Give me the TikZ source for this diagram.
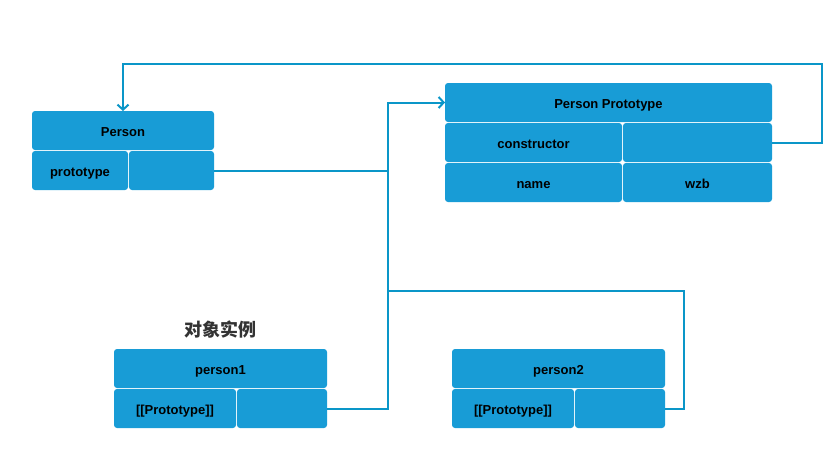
\documentclass[tikz,border=0pt]{standalone}
\usepackage{fontspec}
\setmainfont{Liberation Sans}
\newfontfamily\cjk{Noto Sans CJK SC}
\usetikzlibrary{arrows.meta,calc,positioning}
\definecolor{boxblue}{RGB}{24,156,214}
\definecolor{lineblue}{RGB}{10,150,200}
\definecolor{titlegray}{RGB}{51,51,51}
\newdimen\hdim
\newdimen\gdim
\hdim=39pt
\gdim=1pt
\tikzstyle{cell}=[
  fill=boxblue,
  font={\fontsize{13}{15}\selectfont\bfseries},
  text=black,
  text height=11pt,
  text depth=0pt,
  inner sep=0pt,
  minimum height=\hdim,
  outer sep=0pt,
  rectangle,
  rounded corners=3pt,
  text centered,
]
\tikzstyle{link}=[
  draw=lineblue,
  line width=2pt,
]
\tikzstyle{title}=[
  color=titlegray,
  font={\cjk\bfseries\fontsize{18}{20}\selectfont},
]
\tikzset{
  x=1pt, y=-1pt,
  >={Straight Barb[length=5pt,width=11pt]},
}
\begin{document}
\begin{tikzpicture}
      \useasboundingbox (0,0) rectangle (839,461);
      %% constructor
      \node (person) [cell, minimum width=182pt] at (123,130.5) {Person};
      \node (personkey) [cell, minimum width=96pt, below right=\gdim and 0pt of person.south west] {prototype};
      \node (personval) [cell, minimum width=85pt, right=\gdim of personkey] {};
      %% prototype object
      \node (proto) [cell, minimum width=327pt] at (608.5,102.5) {Person Prototype};
      \node (ctorkey) [cell, minimum width=177pt, below right=\gdim and 0pt of proto.south west] {constructor};
      \node (ctorval) [cell, minimum width=149pt, right=\gdim of ctorkey] {};
      \node (namekey) [cell, minimum width=177pt, below=\gdim of ctorkey] {name};
      \node (nameval) [cell, minimum width=149pt, right=\gdim of namekey] {wzb};
      %% instances
      \node (person1) [cell, minimum width=213pt] at (220.5,368.5) {person1};
      \node (p1key) [cell, minimum width=122pt, below right=\gdim and 0pt of person1.south west] {[[Prototype]]};
      \node (p1val) [cell, minimum width=90pt, right=\gdim of p1key] {};
      \node (person2) [cell, minimum width=213pt] at (558.5,368.5) {person2};
      \node (p2key) [cell, minimum width=122pt, below right=\gdim and 0pt of person2.south west] {[[Prototype]]};
      \node (p2val) [cell, minimum width=90pt, right=\gdim of p2key] {};
      \node (instances) [title, above=7pt of person1] {对象实例};
      %%
      \coordinate (trunk) at (388,102.5);
      \coordinate (bend) at (684,291);
      \coordinate (loop) at (822,64);
      \draw [->, link] (p1val.east) -| (trunk) -- (proto.west);
      \draw [link] (personval.east) -- (personval.east -| trunk);
      \draw [link] (p2val.east) -| (bend) -- (bend -| trunk);
      \draw [->, link] (ctorval.east) -| (loop) -| (person.north);
    \end{tikzpicture}
\end{document}
